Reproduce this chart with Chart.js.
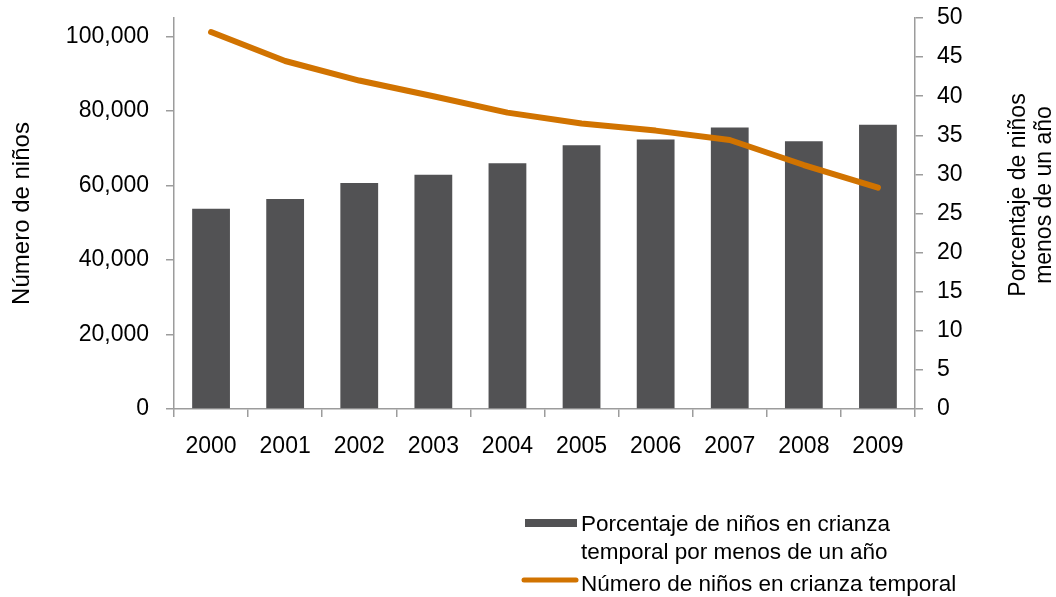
<!DOCTYPE html>
<html>
<head>
<meta charset="utf-8">
<script src="https://cdn.jsdelivr.net/npm/chart.js@4/dist/chart.umd.min.js"></script>
<style>
  html, body { margin: 0; padding: 0; background: #fff; }
  canvas { display: block; }
</style>
</head>
<body>
<canvas id="myCanvas" width="1056" height="597"></canvas>
<script>
'use strict';

// data
const years = ['2000', '2001', '2002', '2003', '2004', '2005', '2006', '2007', '2008', '2009'];
const barValues = [53800, 56400, 60700, 62900, 66000, 70800, 72400, 75600, 71900, 76300];
const lineValues = [48.2, 44.5, 42.0, 40.0, 37.9, 36.5, 35.6, 34.4, 31.2, 28.3];
const leftTicks = [0, 20000, 40000, 60000, 80000, 100000];

const barLabel = ['Porcentaje de niños en crianza', 'temporal por menos de un año'];
const lineLabel = ['Número de niños en crianza temporal'];
const leftTitle = 'Número de niños';
const rightTitle = ['Porcentaje de niños', 'menos de un año'];

const FONT = '"Liberation Sans", Arial, sans-serif';
const BAR_COLOR = '#525254';
const LINE_COLOR = '#d17300';
const AXIS_COLOR = '#9c9c9c';

const canvasEl = document.getElementById('myCanvas');
const ctx = canvasEl.getContext('2d');

// right axis title (reads bottom to top) and the legend at the bottom
const extras = {
  id: 'extras',
  afterDraw(chart) {
    const c = chart.ctx;
    c.save();
    c.fillStyle = '#000';
    c.font = '23px ' + FONT;
    c.textAlign = 'center';
    c.textBaseline = 'middle';
    const xs = [1019, 1045];
    rightTitle.forEach((t, i) => {
      c.save();
      c.translate(xs[i], 195);
      c.rotate(-Math.PI / 2);
      c.fillText(t, 0, 0);
      c.restore();
    });

    // legend
    c.font = '22.5px ' + FONT;
    c.textAlign = 'left';
    c.fillStyle = BAR_COLOR;
    c.fillRect(525, 519, 52, 8);
    c.fillStyle = '#000';
    c.fillText(barLabel[0], 581, 525);
    c.fillText(barLabel[1], 581, 553);

    c.strokeStyle = LINE_COLOR;
    c.lineWidth = 5;
    c.lineCap = 'round';
    c.beginPath();
    c.moveTo(524, 580);
    c.lineTo(576, 580);
    c.stroke();
    c.fillStyle = '#000';
    c.fillText(lineLabel[0], 581, 585);
    c.restore();
  }
};

const chart = new Chart(ctx, {
  data: {
    labels: years,
    datasets: [{
      type: 'line',
      label: lineLabel.join(' '),
      data: lineValues,
      yAxisID: 'y1',
      borderColor: LINE_COLOR,
      borderWidth: 6,
      borderCapStyle: 'round',
      borderJoinStyle: 'round',
      pointRadius: 0,
      tension: 0,
      order: 0
    }, {
      type: 'bar',
      label: barLabel.join(' '),
      data: barValues,
      yAxisID: 'y',
      backgroundColor: BAR_COLOR,
      barPercentage: 0.51,
      categoryPercentage: 1,
      order: 1
    }]
  },
  options: {
    responsive: false,
    animation: false,
    layout: { padding: { left: 0, right: 0, top: 18, bottom: 0 } },
    plugins: {
      legend: { display: false },
      tooltip: { enabled: false }
    },
    scales: {
      x: {
        offset: true,
        grid: { offset: true, drawOnChartArea: false, tickLength: 8, color: AXIS_COLOR, lineWidth: 1.5 },
        border: { color: AXIS_COLOR, width: 1.5 },
        ticks: { color: '#000', font: { family: FONT, size: 23 }, padding: 16, maxRotation: 0 },
        afterFit(s) { s.height = 188; s.paddingLeft = 0; s.paddingRight = 0; }
      },
      y: {
        position: 'left',
        min: 0,
        max: 105000,
        afterBuildTicks(s) { s.ticks = leftTicks.map(v => ({ value: v })); },
        ticks: { color: '#000', font: { family: FONT, size: 23 }, padding: 17 },
        grid: { drawOnChartArea: false, tickLength: 8, color: AXIS_COLOR, lineWidth: 1.5 },
        border: { color: AXIS_COLOR, width: 1.5 },
        title: {
          display: true,
          text: leftTitle,
          color: '#000',
          font: { family: FONT, size: 24 },
          padding: { top: 8, bottom: 0 }
        },
        afterFit(s) { s.width = 174; s.paddingTop = 0; s.paddingBottom = 0; }
      },
      y1: {
        position: 'right',
        min: 0,
        max: 50,
        ticks: { stepSize: 5, color: '#000', font: { family: FONT, size: 23 }, padding: 14 },
        grid: { drawOnChartArea: false, tickLength: 8, color: AXIS_COLOR, lineWidth: 1.5 },
        border: { color: AXIS_COLOR, width: 1.5 },
        afterFit(s) { s.width = 141; s.paddingTop = 0; s.paddingBottom = 0; }
      }
    }
  },
  plugins: [extras]
});
</script>
</body>
</html>
